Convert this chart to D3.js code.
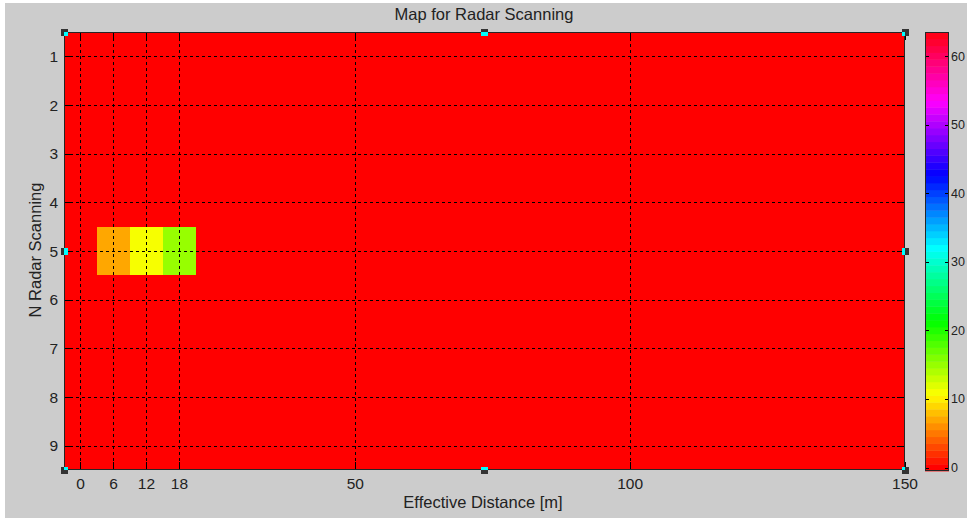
<!DOCTYPE html>
<html>
<head>
<meta charset="utf-8">
<script src="https://cdn.jsdelivr.net/npm/d3@7"></script>
<style>
  html, body { margin: 0; padding: 0; background: #fff; }
  svg { display: block; font-family: "Liberation Sans", Arial, sans-serif; }
</style>
</head>
<body>
<script>
// data
const scanRows = [1, 2, 3, 4, 5, 6, 7, 8, 9];
const distances = [0, 6, 12, 18, 24, 30, 36, 42, 48, 54, 60, 66, 72, 78, 84, 90, 96, 102, 108, 114, 120, 126, 132, 138, 144, 150];
const backgroundLevel = 0;
const hotRow = 5;
const hotDistances = [6, 12, 18];
const hotLevels = [7, 11, 15];
const xTicks = [0, 6, 12, 18, 50, 100, 150];
const yTicks = [1, 2, 3, 4, 5, 6, 7, 8, 9];
const cbTicks = [0, 10, 20, 30, 40, 50, 60];
const nColors = 64;

const W = 967, H = 518;
const plot = { left: 64, right: 905, top: 32, bottom: 470 };
const bar = { left: 925, right: 949, top: 32, bottom: 471 };

const svg = d3.select("body").append("svg")
  .attr("width", W)
  .attr("height", H);

// figure background (grey with a thin white margin top/left)
svg.append("rect")
  .attr("x", 5).attr("y", 3)
  .attr("width", W - 5).attr("height", H - 3)
  .attr("fill", "#cccccc");

const x = d3.scaleLinear().domain([-3, 150]).range([plot.left, plot.right]);
const y = d3.scaleLinear().domain([0.5, 9.5]).range([plot.top, plot.bottom]);

// MATLAB hsv(64) colormap
const hsvColor = i => d3.hsl(360 * i / nColors, 1, 0.5).formatHex();
const level = v => Math.max(0, Math.min(nColors - 1, Math.round(v)));

// build the grid
const cells = [];
scanRows.forEach(r => {
  distances.forEach(d => {
    let v = backgroundLevel;
    const k = hotDistances.indexOf(d);
    if (r === hotRow && k >= 0) v = hotLevels[k];
    cells.push({ row: r, dist: d, value: v });
  });
});

svg.append("clipPath").attr("id", "plotClip")
  .append("rect")
  .attr("x", plot.left).attr("y", plot.top)
  .attr("width", plot.right - plot.left)
  .attr("height", plot.bottom - plot.top);

const g = svg.append("g").attr("clip-path", "url(#plotClip)");

g.selectAll("rect.cell")
  .data(cells)
  .enter()
  .append("rect")
  .attr("class", "cell")
  .attr("x", d => Math.round(x(d.dist - 3)))
  .attr("y", d => Math.round(y(d.row - 0.5)))
  .attr("width", d => Math.round(x(d.dist + 3)) - Math.round(x(d.dist - 3)))
  .attr("height", d => Math.round(y(d.row + 0.5)) - Math.round(y(d.row - 0.5)))
  .attr("fill", d => hsvColor(level(d.value)))
  .attr("shape-rendering", "crispEdges");

// dashed grid
g.selectAll("line.vgrid")
  .data(xTicks)
  .enter()
  .append("line")
  .attr("class", "vgrid")
  .attr("x1", d => Math.round(x(d)) + 0.5)
  .attr("x2", d => Math.round(x(d)) + 0.5)
  .attr("y1", plot.top)
  .attr("y2", plot.bottom)
  .attr("stroke", "#000")
  .attr("stroke-dasharray", "3,3");

g.selectAll("line.hgrid")
  .data(yTicks)
  .enter()
  .append("line")
  .attr("class", "hgrid")
  .attr("y1", d => Math.round(y(d)) + 0.5)
  .attr("y2", d => Math.round(y(d)) + 0.5)
  .attr("x1", plot.left)
  .attr("x2", plot.right)
  .attr("stroke", "#000")
  .attr("stroke-dasharray", "3,3");

// inside tick marks
const tickLen = 8;
const ticks = svg.append("g").attr("stroke", "#000").attr("stroke-width", 1);
xTicks.forEach(t => {
  const px = Math.round(x(t)) + 0.5;
  ticks.append("line").attr("x1", px).attr("x2", px).attr("y1", plot.bottom).attr("y2", plot.bottom - tickLen);
  ticks.append("line").attr("x1", px).attr("x2", px).attr("y1", plot.top).attr("y2", plot.top + tickLen);
});
yTicks.forEach(t => {
  const py = Math.round(y(t)) + 0.5;
  ticks.append("line").attr("y1", py).attr("y2", py).attr("x1", plot.left).attr("x2", plot.left + tickLen);
  ticks.append("line").attr("y1", py).attr("y2", py).attr("x1", plot.right).attr("x2", plot.right - tickLen);
});

// axes box
svg.append("rect")
  .attr("x", plot.left + 0.5).attr("y", plot.top + 0.5)
  .attr("width", plot.right - plot.left - 1)
  .attr("height", plot.bottom - plot.top - 1)
  .attr("fill", "none")
  .attr("stroke", "#262626");

// tick labels
svg.selectAll("text.xt")
  .data(xTicks)
  .enter()
  .append("text")
  .attr("class", "xt")
  .attr("x", d => x(d))
  .attr("y", 489)
  .attr("text-anchor", "middle")
  .attr("font-size", 15.5)
  .attr("fill", "#222")
  .text(d => d);

svg.selectAll("text.yt")
  .data(yTicks)
  .enter()
  .append("text")
  .attr("class", "yt")
  .attr("x", 58)
  .attr("y", d => y(d) + 5.5)
  .attr("text-anchor", "end")
  .attr("font-size", 15.5)
  .attr("fill", "#222")
  .text(d => d);

// titles
svg.append("text")
  .attr("x", 484).attr("y", 20)
  .attr("text-anchor", "middle")
  .attr("font-size", 16.5)
  .attr("fill", "#222")
  .text("Map for Radar Scanning");

svg.append("text")
  .attr("x", 483).attr("y", 508)
  .attr("text-anchor", "middle")
  .attr("font-size", 16.5)
  .attr("fill", "#222")
  .text("Effective Distance [m]");

svg.append("text")
  .attr("transform", "translate(41,250) rotate(-90)")
  .attr("text-anchor", "middle")
  .attr("font-size", 16.5)
  .attr("fill", "#222")
  .text("N Radar Scanning");

// colorbar
const cb = d3.scaleLinear().domain([-0.5, nColors - 0.5]).range([bar.bottom, bar.top]);
svg.selectAll("rect.band")
  .data(d3.range(nColors))
  .enter()
  .append("rect")
  .attr("class", "band")
  .attr("x", bar.left)
  .attr("width", bar.right - bar.left)
  .attr("y", d => cb(d + 0.5))
  .attr("height", d => cb(d - 0.5) - cb(d + 0.5) + 0.4)
  .attr("fill", d => hsvColor(d));

cbTicks.forEach(t => {
  const py = Math.round(cb(t)) + 0.5;
  svg.append("line").attr("x1", bar.left).attr("x2", bar.left + 4).attr("y1", py).attr("y2", py).attr("stroke", "#000");
  svg.append("line").attr("x1", bar.right).attr("x2", bar.right - 4).attr("y1", py).attr("y2", py).attr("stroke", "#000");
});

svg.append("rect")
  .attr("x", bar.left + 0.5).attr("y", bar.top + 0.5)
  .attr("width", bar.right - bar.left - 1)
  .attr("height", bar.bottom - bar.top - 1)
  .attr("fill", "none")
  .attr("stroke", "#262626");

svg.selectAll("text.cbt")
  .data(cbTicks)
  .enter()
  .append("text")
  .attr("class", "cbt")
  .attr("x", 951)
  .attr("y", d => cb(d) + 4.5)
  .attr("font-size", 12.5)
  .attr("fill", "#222")
  .text(d => d);

// selection handles (figure in edit mode)
const handles = [
  [plot.left, plot.top], [(plot.left + plot.right) / 2, plot.top], [plot.right, plot.top],
  [plot.left, (plot.top + plot.bottom) / 2], [plot.right, (plot.top + plot.bottom) / 2],
  [plot.left, plot.bottom], [(plot.left + plot.right) / 2, plot.bottom], [plot.right, plot.bottom]
];
handles.forEach(([hx, hy]) => {
  const x0 = Math.round(hx - 3.5), y0 = Math.round(hy - 3.5);
  svg.append("rect").attr("x", x0).attr("y", y0).attr("width", 7).attr("height", 7).attr("fill", "#333");
  const cx0 = Math.max(x0, plot.left), cx1 = Math.min(x0 + 7, plot.right);
  const cy0 = Math.max(y0, plot.top), cy1 = Math.min(y0 + 7, plot.bottom);
  svg.append("rect")
    .attr("x", cx0).attr("y", cy0)
    .attr("width", Math.max(0, cx1 - cx0)).attr("height", Math.max(0, cy1 - cy0))
    .attr("fill", "#00ffff");
});
</script>
</body>
</html>
